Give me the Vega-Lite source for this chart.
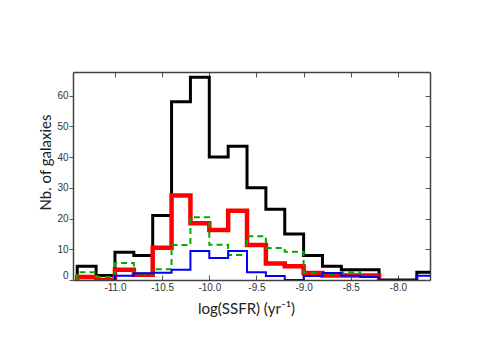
{
  "$schema": "https://vega.github.io/schema/vega-lite/v6.json",
  "width": 357,
  "height": 208,
  "autosize": {"type": "none"},
  "padding": {"left": 73, "top": 72, "right": 61, "bottom": 67},
  "background": "white",
  "view": {"stroke": null},
  "config": {
    "axis": {"grid": false, "zindex": 1, "domainColor": "#404040", "domainWidth": 1.5, "tickColor": "#555555", "tickWidth": 1, "labelFont": "Liberation Sans", "labelFontSize": 10, "labelColor": "#333333", "titleFont": "Lato", "titleFontWeight": "normal", "titleColor": "#222222"}
  },
  "data": {"values": [
    {"s":"k","o":0,"x":-11.4,"y":0},{"s":"k","o":1,"x":-11.4,"y":4.5},{"s":"k","o":2,"x":-11.2,"y":1.5},{"s":"k","o":3,"x":-11.0,"y":9},{"s":"k","o":4,"x":-10.8,"y":8},{"s":"k","o":5,"x":-10.6,"y":21},{"s":"k","o":6,"x":-10.4,"y":58},{"s":"k","o":7,"x":-10.2,"y":66},{"s":"k","o":8,"x":-10.0,"y":40},{"s":"k","o":9,"x":-9.8,"y":43.5},{"s":"k","o":10,"x":-9.6,"y":30},{"s":"k","o":11,"x":-9.4,"y":23},{"s":"k","o":12,"x":-9.2,"y":15},{"s":"k","o":13,"x":-9.0,"y":8},{"s":"k","o":14,"x":-8.8,"y":4.5},{"s":"k","o":15,"x":-8.6,"y":3.3},{"s":"k","o":16,"x":-8.4,"y":3.3},{"s":"k","o":17,"x":-8.2,"y":0},{"s":"k","o":18,"x":-8.0,"y":0},{"s":"k","o":19,"x":-7.8,"y":2.5},{"s":"k","o":20,"x":-7.6,"y":2.5},{"s":"k","o":21,"x":-7.6,"y":0},
    {"s":"r","o":0,"x":-11.4,"y":0},{"s":"r","o":1,"x":-11.4,"y":1},{"s":"r","o":2,"x":-11.2,"y":0},{"s":"r","o":3,"x":-11.0,"y":3.3},{"s":"r","o":4,"x":-10.8,"y":1.7},{"s":"r","o":5,"x":-10.6,"y":10.5},{"s":"r","o":6,"x":-10.4,"y":27.5},{"s":"r","o":7,"x":-10.2,"y":18.5},{"s":"r","o":8,"x":-10.0,"y":16.3},{"s":"r","o":9,"x":-9.8,"y":22.5},{"s":"r","o":10,"x":-9.6,"y":11.4},{"s":"r","o":11,"x":-9.4,"y":5.4},{"s":"r","o":12,"x":-9.2,"y":4.5},{"s":"r","o":13,"x":-9.0,"y":2.3},{"s":"r","o":14,"x":-8.8,"y":1.5},{"s":"r","o":15,"x":-8.6,"y":1.5},{"s":"r","o":16,"x":-8.4,"y":1.5},{"s":"r","o":17,"x":-8.2,"y":1.5},{"s":"r","o":18,"x":-8.2,"y":0},
    {"s":"g","o":0,"x":-11.4,"y":0},{"s":"g","o":1,"x":-11.4,"y":2.5},{"s":"g","o":2,"x":-11.2,"y":1},{"s":"g","o":3,"x":-11.0,"y":5.5},{"s":"g","o":4,"x":-10.8,"y":2},{"s":"g","o":5,"x":-10.6,"y":3.5},{"s":"g","o":6,"x":-10.4,"y":11.4},{"s":"g","o":7,"x":-10.2,"y":20.4},{"s":"g","o":8,"x":-10.0,"y":11.5},{"s":"g","o":9,"x":-9.8,"y":8.1},{"s":"g","o":10,"x":-9.6,"y":14.2},{"s":"g","o":11,"x":-9.4,"y":10.4},{"s":"g","o":12,"x":-9.2,"y":9.2},{"s":"g","o":13,"x":-9.0,"y":2.3},{"s":"g","o":14,"x":-8.8,"y":2},{"s":"g","o":15,"x":-8.6,"y":2.5},{"s":"g","o":16,"x":-8.4,"y":2.5},{"s":"g","o":17,"x":-8.4,"y":0},
    {"s":"b","o":0,"x":-11.0,"y":0},{"s":"b","o":1,"x":-11.0,"y":1.4},{"s":"b","o":2,"x":-10.8,"y":2.2},{"s":"b","o":3,"x":-10.6,"y":2.4},{"s":"b","o":4,"x":-10.4,"y":3.3},{"s":"b","o":5,"x":-10.2,"y":9.4},{"s":"b","o":6,"x":-10.0,"y":7.2},{"s":"b","o":7,"x":-9.8,"y":9.4},{"s":"b","o":8,"x":-9.6,"y":2.5},{"s":"b","o":9,"x":-9.4,"y":1.3},{"s":"b","o":10,"x":-9.2,"y":0},{"s":"b","o":11,"x":-9.0,"y":1.3},{"s":"b","o":12,"x":-8.8,"y":2.3},{"s":"b","o":13,"x":-8.6,"y":1.4},{"s":"b","o":14,"x":-8.4,"y":1},{"s":"b","o":15,"x":-8.2,"y":0},{"s":"b","o":16,"x":-7.8,"y":0},{"s":"b","o":17,"x":-7.8,"y":1.4},{"s":"b","o":18,"x":-7.6,"y":1.4},{"s":"b","o":19,"x":-7.6,"y":0}
  ]},
  "resolve": {"axis": {"x": "independent", "y": "independent"}},
  "layer": [
    {
      "transform": [{"filter": "datum.s === 'k'"}],
      "mark": {"type": "line", "interpolate": "step-after", "color": "#000000", "strokeWidth": 3, "clip": true, "strokeJoin": "miter"},
      "encoding": {
        "x": {"field": "x", "type": "quantitative", "scale": {"domain": [-11.445, -7.66], "nice": false, "zero": false},
          "axis": {"orient": "bottom", "values": [-11, -10.5, -10, -9.5, -9, -8.5, -8], "labelExpr": "(datum.value < 0 ? '-' : '') + format(abs(datum.value), '.1f')", "tickSize": -5, "labelPadding": 7, "title": "log(SSFR) (yr\u207b\u00b9)", "titleFontSize": 15, "titleX": 173, "titleY": 28, "titleBaseline": "middle", "titleAnchor": "start", "titleAlign": "center"}},
        "y": {"field": "y", "type": "quantitative", "scale": {"domain": [0, 67.7], "nice": false},
          "axis": {"orient": "left", "values": [0, 10, 20, 30, 40, 50, 60], "tickSize": 4, "labelPadding": 1, "labelOffset": {"condition": {"test": "datum.value === 0", "value": -5}, "value": 0}, "title": "Nb. of galaxies", "titleFontSize": 15, "titleX": -28, "titleY": 90, "titleBaseline": "middle", "titleAngle": -90, "titleAlign": "center", "titleAnchor": "start"}},
        "order": {"field": "o", "type": "quantitative"}
      }
    },
    {
      "transform": [{"filter": "datum.s === 'r'"}],
      "mark": {"type": "line", "interpolate": "step-after", "color": "#ff0000", "strokeWidth": 4.5, "clip": true, "strokeJoin": "miter"},
      "encoding": {
        "x": {"field": "x", "type": "quantitative", "axis": null},
        "y": {"field": "y", "type": "quantitative", "axis": null},
        "order": {"field": "o", "type": "quantitative"}
      }
    },
    {
      "transform": [{"filter": "datum.s === 'g'"}],
      "mark": {"type": "line", "interpolate": "step-after", "color": "#00aa00", "strokeWidth": 2, "strokeDash": [6, 4], "clip": true, "strokeJoin": "miter"},
      "encoding": {
        "x": {"field": "x", "type": "quantitative", "axis": null},
        "y": {"field": "y", "type": "quantitative", "axis": null},
        "order": {"field": "o", "type": "quantitative"}
      }
    },
    {
      "transform": [{"filter": "datum.s === 'b'"}],
      "mark": {"type": "line", "interpolate": "step-after", "color": "#0000ff", "strokeWidth": 2, "clip": true, "strokeJoin": "miter"},
      "encoding": {
        "x": {"field": "x", "type": "quantitative", "axis": {"orient": "top", "values": [-11, -10.5, -10, -9.5, -9, -8.5, -8], "labels": false, "tickSize": -5, "title": null}},
        "y": {"field": "y", "type": "quantitative", "axis": {"orient": "right", "values": [0, 10, 20, 30, 40, 50, 60], "labels": false, "tickSize": -5, "title": null}},
        "order": {"field": "o", "type": "quantitative"}
      }
    }
  ]
}
